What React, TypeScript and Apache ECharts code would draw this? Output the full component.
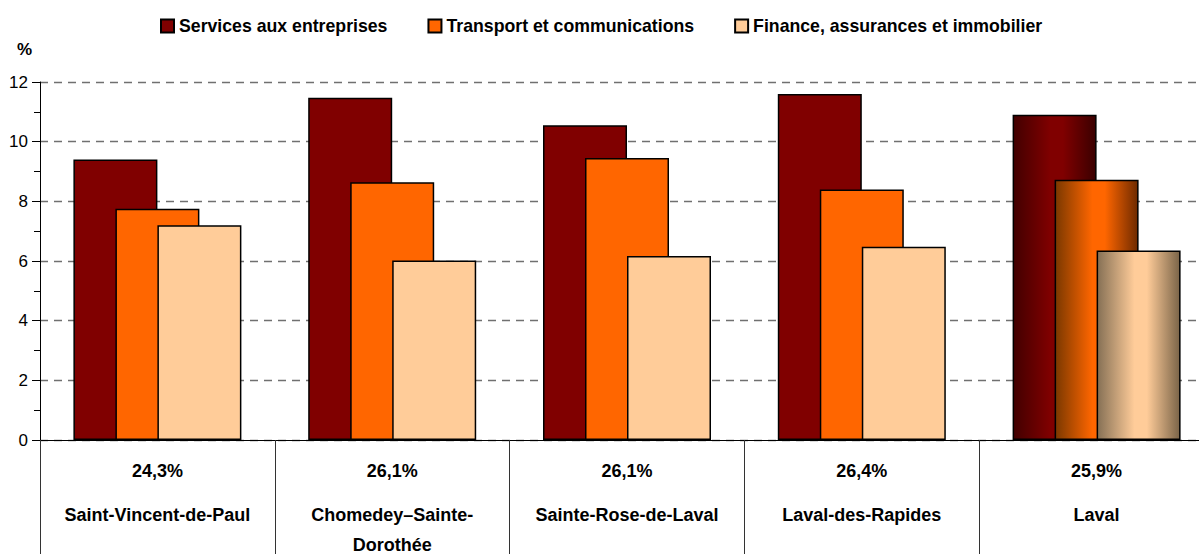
import React, { useEffect, useRef } from "react";
import * as echarts from "echarts";

const categories = [
  "Saint-Vincent-de-Paul",
  "Chomedey–Sainte-\nDorothée",
  "Sainte-Rose-de-Laval",
  "Laval-des-Rapides",
  "Laval",
];
const totals = ["24,3%", "26,1%", "26,1%", "26,4%", "25,9%"];
const seriesNames = [
  "Services aux entreprises",
  "Transport et communications",
  "Finance, assurances et immobilier",
];
const services = [9.4, 11.47, 10.55, 11.6, 10.9];
const transport = [7.75, 8.64, 9.45, 8.4, 8.72];
const finance = [7.2, 6.02, 6.17, 6.48, 6.35];
const yTicks = [0, 2, 4, 6, 8, 10, 12];

const FONT = "'Liberation Sans Narrow', 'Arial Narrow', 'Liberation Sans', sans-serif";

const baseColors = ["#800000", "#ff6600", "#ffcc99"];
const gradients = [
  ["#420000", "#800000", "#3a0000"],
  ["#7a3800", "#ff6600", "#6e2a00"],
  ["#857055", "#ffcc99", "#7a6448"],
];

function makeGradient(i: number) {
  const g = gradients[i];
  return new echarts.graphic.LinearGradient(0, 0, 1, 0, [
    { offset: 0, color: g[0] },
    { offset: 0.45, color: g[1] },
    { offset: 0.6, color: g[1] },
    { offset: 1, color: g[2] },
  ]);
}

export default function App() {
  const ref = useRef<HTMLDivElement>(null);
  useEffect(() => {
    if (!ref.current) return;
    const chart = echarts.init(ref.current, null, { renderer: "svg" });
    const datasets = [services, transport, finance];
    const series = datasets.map((vals, i) => ({
      name: seriesNames[i],
      type: "bar",
      barWidth: 84,
      barGap: "-50%",
      itemStyle: { color: baseColors[i], borderColor: "#000", borderWidth: 1.5 },
      data: vals.map((v, j) =>
        j === vals.length - 1
          ? { value: v, itemStyle: { color: makeGradient(i) } }
          : v
      ),
    }));
    chart.setOption({
      animation: false,
      textStyle: { fontFamily: FONT },
      legend: {
        top: 12,
        left: 155,
        itemWidth: 13,
        itemHeight: 13,
        itemGap: 40,
        icon: "rect",
        textStyle: { fontFamily: FONT, fontWeight: "bold", fontSize: 17.7, color: "#000" },
        data: seriesNames,
      },
      graphic: [
        {
          type: "text",
          left: 17,
          top: 41,
          style: { text: "%", font: `bold 17px ${FONT}`, fill: "#000" },
        },
      ],
      grid: { left: 40, right: 0, top: 82, bottom: 111 },
      xAxis: {
        type: "category",
        data: categories,
        boundaryGap: true,
        axisLine: { lineStyle: { color: "#000", width: 1 } },
        axisTick: { show: true, length: 120, lineStyle: { color: "#333", width: 1 } },
        axisLabel: {
          margin: 2,
          interval: 0,
          formatter: (v: string, idx: number) => {
            const parts = v.split("\n").map((p) => `{n|${p}}`).join("\n");
            return `{p|${totals[idx]}}\n${parts}`;
          },
          rich: {
            p: { fontFamily: FONT, fontWeight: "bold", fontSize: 18, lineHeight: 58, color: "#000" },
            n: { fontFamily: FONT, fontWeight: "bold", fontSize: 18, lineHeight: 30, color: "#000" },
          },
        },
      },
      yAxis: {
        type: "value",
        min: 0,
        max: 12,
        interval: 2,
        axisLine: { show: true, lineStyle: { color: "#000", width: 1 } },
        axisTick: { show: true, length: 8, lineStyle: { color: "#000" } },
        minorTick: { show: true, splitNumber: 2, length: 6, lineStyle: { color: "#000" } },
        splitLine: {
          show: true,
          lineStyle: { color: "#707070", type: [8, 6], width: 1.3 },
        },
        axisLabel: {
          margin: 12,
          fontFamily: FONT,
          fontSize: 17,
          color: "#000",
          formatter: (v: number) => (yTicks.includes(v) ? String(v) : ""),
        },
      },
      series,
    });
    return () => chart.dispose();
  }, []);
  return (
    <div style={{ position: "absolute", left: 0, top: 0, width: 1199, height: 554, overflow: "hidden" }}>
      <div ref={ref} style={{ width: 1214, height: 554 }} />
    </div>
  );
}
